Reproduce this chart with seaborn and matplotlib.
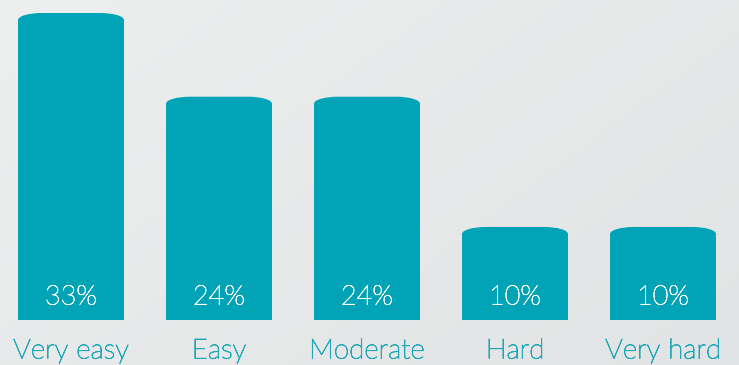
import numpy as np
import pandas as pd
import seaborn as sns
import matplotlib.pyplot as plt
from matplotlib.path import Path
from matplotlib.patches import PathPatch
import matplotlib.colors as mcolors
import matplotlib.patheffects as pe

categories = ["Very easy", "Easy", "Moderate", "Hard", "Very hard"]
shares = [33, 24, 24, 10, 10]
value_labels = ["33%", "24%", "24%", "10%", "10%"]

BAR = "#00A4B6"
LABEL = "#1FA8B8"

W, H, DPI = 739, 365, 100
fig = plt.figure(figsize=(W / DPI, H / DPI), dpi=DPI)

# soft grey background with a faint diagonal shade
bg = fig.add_axes([0, 0, 1, 1], zorder=0)
gx, gy = np.meshgrid(np.linspace(0, 1, 200), np.linspace(0, 1, 100))
shade = 0.6 * gx + 0.4 * (1 - gy)
cmap = mcolors.LinearSegmentedColormap.from_list("bg", ["#EDEEEE", "#E2E3E4"])
bg.imshow(shade, cmap=cmap, aspect="auto", extent=[0, 1, 0, 1], origin="lower")
bg.axis("off")

ax = fig.add_axes([0, 0, 1, 1], zorder=1)
ax.patch.set_alpha(0)

df = pd.DataFrame({"category": categories, "share": shares})
sns.barplot(data=df, x="category", y="share", color=BAR, width=0.716,
            saturation=1, ax=ax, edgecolor="none")

px_x = 148.0            # pixels per category step
px_y = 307.0 / 33       # pixels per percentage point
x0_px, y0_px = 71.0, 45.0
ax.set_xlim(-x0_px / px_x, (W - x0_px) / px_x)
ax.set_ylim(-y0_px / px_y, (H - y0_px) / px_y)
ax.axis("off")

# replace each rectangle by a bar with a softly rounded top
rx = 24 / px_x
ry = 7 / px_y
k = 0.5523
for p in list(ax.patches):
    x, y = p.get_x(), p.get_y()
    w, h = p.get_width(), p.get_height()
    p.set_visible(False)
    x1, yt = x + w, y + h
    verts = [
        (x, y),
        (x, yt - ry),
        (x, yt - ry + k * ry), (x + rx - k * rx, yt), (x + rx, yt),
        (x1 - rx, yt),
        (x1 - rx + k * rx, yt), (x1, yt - ry + k * ry), (x1, yt - ry),
        (x1, y),
        (x, y),
    ]
    codes = [Path.MOVETO, Path.LINETO,
             Path.CURVE4, Path.CURVE4, Path.CURVE4,
             Path.LINETO,
             Path.CURVE4, Path.CURVE4, Path.CURVE4,
             Path.LINETO, Path.CLOSEPOLY]
    ax.add_patch(PathPatch(Path(verts, codes), facecolor=BAR,
                           edgecolor="none", zorder=2))

fam = ["Lato", "DejaVu Sans"]
for i, (lab, txt) in enumerate(zip(categories, value_labels)):
    ax.text(i, 23 / px_y, txt, ha="center", va="center", color="white",
            fontsize=19.5, family=fam, fontweight="light", zorder=3,
            path_effects=[pe.withStroke(linewidth=0.5, foreground="white")])
    ax.text(i, -31 / px_y, lab, ha="center", va="center", color=LABEL,
            fontsize=20, family=fam, fontweight="light", zorder=3,
            path_effects=[pe.withStroke(linewidth=0.6, foreground=LABEL)])

fig.savefig("out.png", dpi=DPI)
